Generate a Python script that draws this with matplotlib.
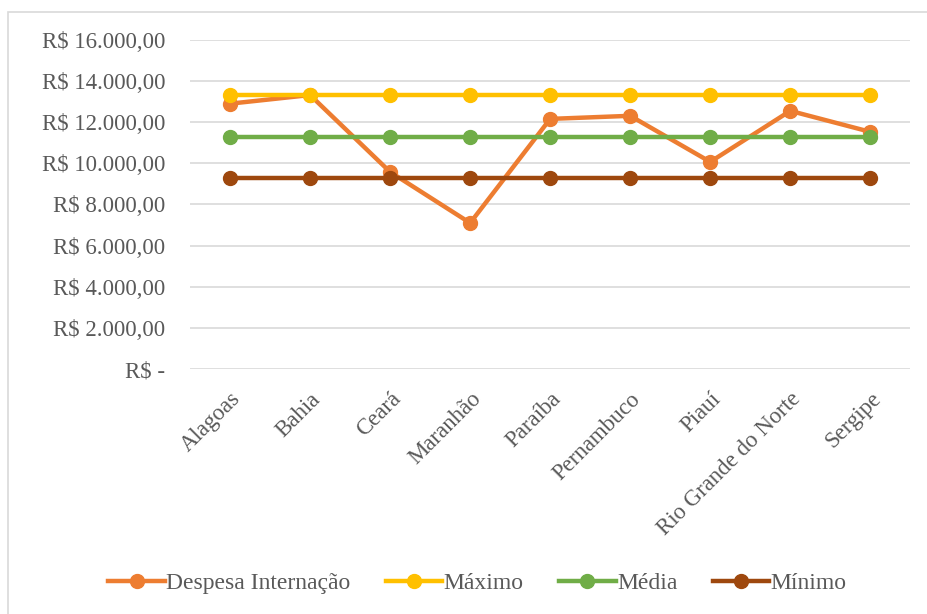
import matplotlib.pyplot as plt
from matplotlib.patches import Rectangle

estados = ["Alagoas", "Bahia", "Ceará", "Maranhão", "Paraíba", "Pernambuco",
           "Piauí", "Rio Grande do Norte", "Sergipe"]
despesa = [12900, 13320, 9580, 7100, 12160, 12310, 10070, 12550, 11530]
maximo = [13320] * 9
media = [11280] * 9
minimo = [9290] * 9

plt.rcParams['font.family'] = ['Liberation Serif', 'DejaVu Serif']
cinza = "#595959"

fig = plt.figure(figsize=(9.27, 6.14), dpi=100)
ax = fig.add_axes([0.205, 0.399, 0.777, 0.536])

series = [
    (despesa, "Despesa Internação", "#ED7D31"),
    (maximo, "Máximo", "#FFC000"),
    (media, "Média", "#70AD47"),
    (minimo, "Mínimo", "#9E480E"),
]
x = list(range(len(estados)))
for vals, nome, cor in series:
    ax.plot(x, vals, color=cor, lw=3.2, marker="o", ms=10, label=nome, zorder=3)

def fmt(v):
    if v == 0:
        return "R$ -"
    s = f"{v:,.2f}".replace(",", "X").replace(".", ",").replace("X", ".")
    return "R$ " + s

ax.set_ylim(0, 16000)
ax.set_xlim(-0.5, 8.5)
yt = list(range(0, 16001, 2000))
ax.set_yticks(yt)
ax.set_yticklabels([fmt(v) for v in yt])
ax.set_xticks(x)
ax.set_xticklabels(estados, rotation=45, ha="right", rotation_mode="anchor")
ax.tick_params(length=0, labelsize=16.5, colors=cinza)
ax.tick_params(axis="x", pad=14)
ax.tick_params(axis="y", pad=18)
ax.grid(axis="y", color="#d9d9d9", lw=1.2)
ax.set_axisbelow(True)
for s in ax.spines.values():
    s.set_visible(False)

leg = fig.legend(loc="center", bbox_to_anchor=(0.515, 0.05), ncol=4, frameon=False,
                 fontsize=17, handlelength=2.4, columnspacing=1.5, handletextpad=0.05)
for t in leg.get_texts():
    t.set_color(cinza)

fig.patches.append(Rectangle((0.009, -0.01), 1.0, 0.99, transform=fig.transFigure,
                             fill=False, edgecolor="#d9d9d9", lw=1.2))

fig.savefig("out.png", dpi=100)
